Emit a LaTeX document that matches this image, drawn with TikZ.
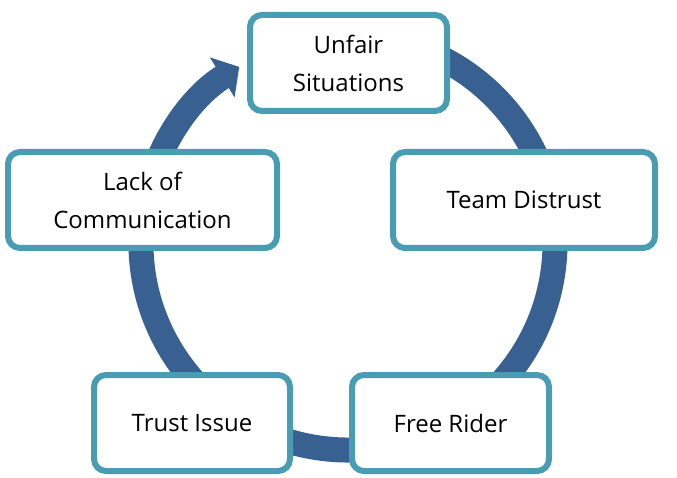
\documentclass[tikz,border=0pt]{standalone}
\usepackage{fontspec}
\setmainfont{Open Sans}
\usetikzlibrary{arrows.meta}

\definecolor{ringblue}{HTML}{386192}
\definecolor{edgeteal}{HTML}{4A9CB3}

\begin{document}
\begin{tikzpicture}[x=1pt,y=1pt,
        stage/.style={rectangle,rounded corners=12pt,draw=edgeteal,line width=6pt,
            fill=white,minimum height=96pt,align=center,
            font=\fontsize{24}{38}\selectfont}]
    \useasboundingbox (0,0) rectangle (677,477);

    % Ring
    \coordinate (c) at (348,234);
    \draw[ringblue,line width=25pt,-{Triangle[width=46pt,length=20pt]}]
        ([shift={(80:207)}]c) arc[start angle=80,end angle=-238.3,radius=207];

    % Top
    \node[stage,minimum width=197pt] (unfair) at (348.5,414) {Unfair\\Situations};

    % Middle
    \node[stage,minimum width=269pt] (lack) at (142.5,277) {Lack of\\Communication};
    \node[stage,minimum width=262pt] (distrust) at (524,277) {Team Distrust};

    % Bottom
    \node[stage,minimum width=196pt] (trust) at (192,54) {Trust Issue};
    \node[stage,minimum width=197pt] (rider) at (450.5,54) {Free Rider};
\end{tikzpicture}
\end{document}
